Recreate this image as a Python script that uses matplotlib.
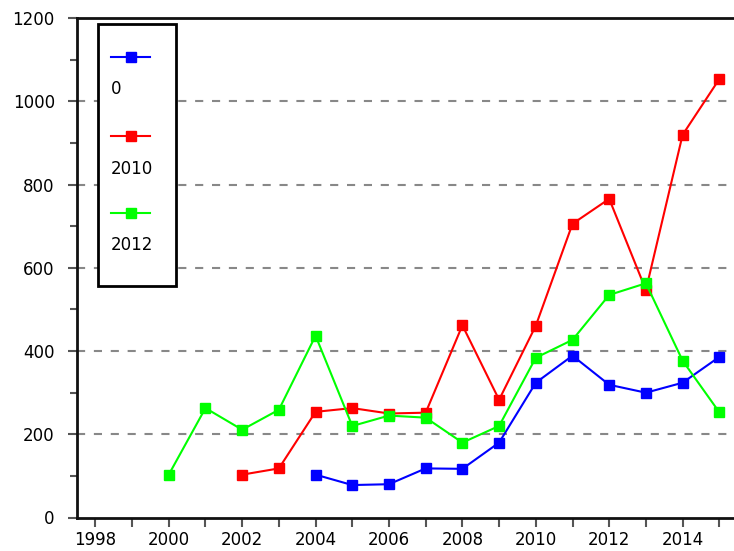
import matplotlib
matplotlib.use("Agg")
import matplotlib.pyplot as plt
from matplotlib.lines import Line2D
from matplotlib.patches import Rectangle

plt.rcParams['font.family'] = ['DejaVu Sans']

# series
years_0 = [2004, 2005, 2006, 2007, 2008, 2009, 2010, 2011, 2012, 2013, 2014, 2015]
vals_0 = [103, 78, 80, 118, 117, 180, 324, 389, 319, 300, 324, 386]

years_2010 = [2002, 2003, 2004, 2005, 2006, 2007, 2008, 2009, 2010, 2011, 2012, 2013, 2014, 2015]
vals_2010 = [103, 118, 254, 263, 250, 252, 462, 283, 461, 706, 766, 547, 920, 1054]

years_2012 = [2000, 2001, 2002, 2003, 2004, 2005, 2006, 2007, 2008, 2009, 2010, 2011, 2012, 2013, 2014, 2015]
vals_2012 = [103, 263, 211, 259, 437, 220, 245, 240, 180, 220, 384, 427, 535, 563, 377, 253]

series_names = ["0", "2010", "2012"]
series_colors = ["#0000ff", "#ff0000", "#00ff00"]

W, H = 734, 551
fig = plt.figure(figsize=(W / 100, H / 100), dpi=100)
ax = fig.add_axes([77 / W, 1 - 517.5 / H, (734 - 77) / W, (517.5 - 18.3) / H])

data = [(years_0, vals_0), (years_2010, vals_2010), (years_2012, vals_2012)]
for (xs, ys), c in zip(data, series_colors):
    ax.plot(xs, ys, color=c, lw=1.5, marker='s', ms=7, mec=c, mfc=c, zorder=3)

ax.set_xlim(1997.5, 2015.4)
ax.set_ylim(0, 1200)

xt = list(range(1998, 2016))
ax.set_xticks(xt)
ax.set_xticklabels([str(y) if y % 2 == 0 else "" for y in xt])
ax.set_yticks(range(0, 1201, 200))
ax.set_yticks(range(100, 1200, 200), minor=True)

ax.tick_params(axis='both', direction='out', colors='#555555', labelcolor='black',
               labelsize=12, width=1.5)
ax.tick_params(axis='y', which='major', length=6.5, pad=9.5)
ax.tick_params(axis='y', which='minor', length=5, width=1.5, colors='#555555')
ax.tick_params(axis='x', which='major', length=6.5, pad=3)

for v in range(200, 1001, 200):
    ax.axhline(v, color='#888888', lw=1.5, ls=(0, (3.9, 4.2)), zorder=1)

for s in ['left', 'bottom', 'top']:
    ax.spines[s].set_linewidth(2)
    ax.spines[s].set_color('#111111')
ax.spines['right'].set_visible(False)

# legend: sample line above the label
box = Rectangle((98 / W, 1 - 286 / H), 78 / W, 262 / H, transform=fig.transFigure,
                facecolor='white', edgecolor='black', lw=2, zorder=5)
fig.add_artist(box)
line_y = [57, 136, 213]
text_y = [89, 169, 245]
for name, c, ly, ty in zip(series_names, series_colors, line_y, text_y):
    fig.add_artist(Line2D([111 / W, 131 / W, 150 / W], [1 - ly / H] * 3, color=c, lw=1.5,
                          marker='s', ms=7, markevery=[1], transform=fig.transFigure, zorder=6))
    fig.text(111 / W, 1 - ty / H, name, fontsize=12, va='center', ha='left', zorder=6)

fig.savefig("out.png", dpi=100)
